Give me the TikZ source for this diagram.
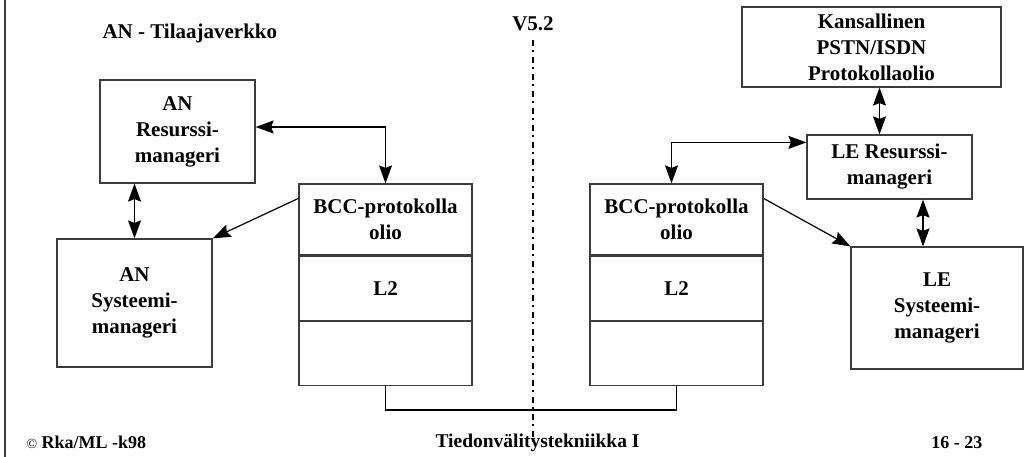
\documentclass[tikz,border=0pt]{standalone}
\usepackage{fontspec}
\setmainfont{Liberation Serif}
\usetikzlibrary{arrows.meta}
\definecolor{linegray}{RGB}{60,60,60}

\begin{document}
\begin{tikzpicture}[x=1pt, y=-1pt,
        every node/.style={font=\bfseries\fontsize{21}{26}\selectfont},
        box/.style={draw=linegray, line width=1.2pt, align=center, inner sep=0pt},
        link/.style={line width=1.2pt, draw=black},
        head/.tip={Stealth[length=18pt, width=13pt, inset=2.5pt]},
        tip/.style={-head},
        twotip/.style={head-head},
        foot/.style={font=\bfseries\fontsize{18}{22}\selectfont}]
        \useasboundingbox (0,0) rectangle (1032,457);

        % frame
        \draw[linegray, line width=1.5pt] (5,0) -- (5,457);

        % names
        \node[anchor=base west] (anet) at (99,39) {AN - Tilaajaverkko};
        \node[anchor=base] (v52) at (533,31) {V5.2};

        % AN side
        \node[box, minimum width=155, minimum height=103] (anres) at (177.5,131.5) {AN\\Resurssi-\\manageri};
        \node[box, minimum width=155, minimum height=128] (ansys) at (134.5,303) {AN\\Systeemi-\\manageri};
        \node[box, minimum width=173, minimum height=71] (bccLa) at (385.5,219.5) {BCC-protokolla\\olio};
        \node[box, minimum width=173, minimum height=64, anchor=north] (bccLb) at (bccLa.south) {L2};
        \node[box, minimum width=173, minimum height=64, anchor=north] (bccLc) at (bccLb.south) {};

        % LE side
        \node[box, minimum width=173, minimum height=71] (bccRa) at (676.5,219.5) {BCC-protokolla\\olio};
        \node[box, minimum width=173, minimum height=64, anchor=north] (bccRb) at (bccRa.south) {L2};
        \node[box, minimum width=173, minimum height=64, anchor=north] (bccRc) at (bccRb.south) {};
        \node[box, minimum width=259, minimum height=80] (kans) at (871.5,47) {Kansallinen\\PSTN/ISDN\\Protokollaolio};
        \node[box, minimum width=165, minimum height=64] (leres) at (889.5,167) {LE Resurssi-\\manageri};
        \node[box, minimum width=172, minimum height=122] (lesys) at (937,308) {LE\\Systeemi-\\manageri};

        % V5.2 interface
        \coordinate (vtop) at (533,40);
        \coordinate (vbot) at (533,442);
        \draw[dash pattern=on 6pt off 4pt on 2pt off 5pt, line width=2pt] (vtop) -- (vbot);

        % arrows
        \draw[link, twotip] (anres.south -| ansys.north) -- (ansys.north);
        \draw[link, twotip] ([yshift=4.5pt]anres.east) -| (bccLa.north);
        \draw[link, tip] ([yshift=-15pt]bccLa.north west) -- (ansys.north east);
        \draw[link, twotip] ([xshift=-5pt]bccRa.north) |- ([yshift=-8pt]leres.north west);
        \coordinate (kl) at ([xshift=-10pt]leres.north);
        \draw[link, twotip] (kl) -- (kl |- kans.south);
        \coordinate (ls) at ([xshift=-14pt]lesys.north);
        \draw[link, twotip] (ls) -- (ls |- leres.south);
        \draw[link, tip] ([yshift=-15pt]bccRa.north east) -- (lesys.north west);
        \draw[link] (bccLc.south) -- ++(0,24) -| (bccRc.south);

        % footer
        \node[foot, anchor=base west] (copy) at (23,448) {\textmd{\fontsize{14}{16}\selectfont\textcopyright} Rka/ML -k98};
        \node[foot, anchor=base, font=\bfseries\fontsize{19.5}{22}\selectfont] (course) at (537.5,447) {Tiedonvälitystekniikka I};
        \node[foot, anchor=base east] (page) at (986,448) {16 - 23};

    \end{tikzpicture}
\end{document}
